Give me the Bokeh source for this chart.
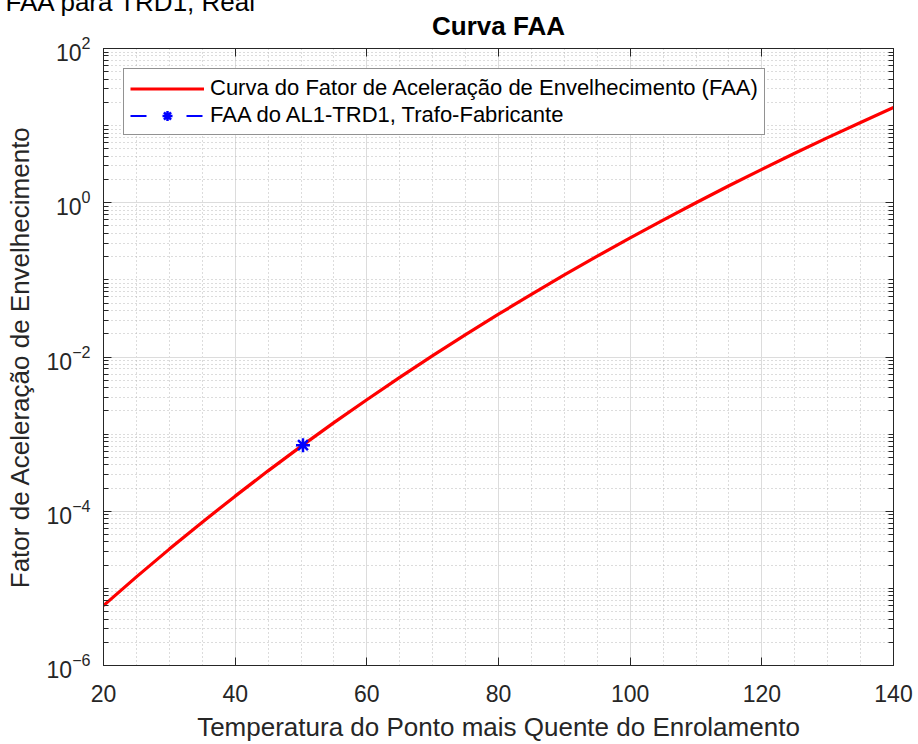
from bokeh.plotting import figure
from bokeh.models import (LinearAxis, LogAxis, FixedTicker, Legend, LegendItem,
                          Title, Range1d, ColumnDataSource)
from bokeh.embed import file_html
from bokeh.resources import INLINE

# ---- data ----
temperature = [20, 25, 30, 35, 40, 45, 50, 55, 60, 65, 70, 75, 80, 85, 90, 95,
               100, 105, 110, 115, 120, 125, 130, 135, 140]
faa = [5.97e-6, 1.41e-5, 3.23e-5, 7.22e-5, 1.57e-4, 3.34e-4, 6.93e-4, 1.41e-3,
       2.79e-3, 5.44e-3, 1.04e-2, 1.95e-2, 3.59e-2, 6.49e-2, 0.116, 0.203,
       0.350, 0.596, 1.0, 1.66, 2.71, 4.38, 6.98, 11.0, 17.2]
point_temperature = [50.3]
point_faa = [7.2e-4]

x_ticks = [20, 40, 60, 80, 100, 120, 140]
y_major_ticks = [1e-6, 1e-4, 1e-2, 1e0, 1e2]
y_minor_ticks = [m * 10.0 ** d for d in range(-6, 2) for m in range(1, 10)
                 if m * 10.0 ** d not in y_major_ticks]
x_minor_ticks = [t for t in range(20, 141, 5) if t not in x_ticks]

curve_label = "Curva do Fator de Aceleração de Envelhecimento (FAA)"
point_label = "FAA do AL1-TRD1, Trafo-Fabricante"
title_text = "Curva FAA"
fragment_text = "FAA para TRD1, Real"

FONT = "Liberation Sans"
DARK = "#262626"

p = figure(width=918, height=744,
           x_range=Range1d(20, 140), y_range=Range1d(1e-6, 1e2),
           y_axis_type="log", output_backend="svg", toolbar_location=None,
           min_border_left=103, min_border_right=25,
           min_border_top=43, min_border_bottom=79)
p.background_fill_color = "white"
p.border_fill_color = "white"
p.outline_line_color = DARK
p.outline_line_width = 1

# outermost heading: the cut-off fragment at the very top of the picture
p.title = Title(text=fragment_text, align="left", offset=-98, standoff=-31,
                vertical_align="bottom", text_font=FONT,
                text_font_size="26px", text_font_style="normal",
                text_color="black")

xt = FixedTicker(ticks=x_ticks, minor_ticks=x_minor_ticks)
yt = FixedTicker(ticks=y_major_ticks, minor_ticks=y_minor_ticks)

# bottom axis
xa = p.xaxis[0]
xa.ticker = xt
xa.axis_label = "Temperatura do Ponto mais Quente do Enrolamento"
# left axis
ya = p.yaxis[0]
ya.ticker = yt
ya.axis_label = "Fator de Aceleração de Envelhecimento"

for ax in (xa, ya):
    ax.axis_line_color = DARK
    ax.major_tick_line_color = DARK
    ax.minor_tick_line_color = DARK
    ax.major_tick_in = 8
    ax.major_tick_out = 0
    ax.major_label_text_font = FONT
    ax.major_label_text_font_size = "23px"
    ax.major_label_text_color = DARK
    ax.axis_label_text_font = FONT
    ax.axis_label_text_font_size = "26px"
    ax.axis_label_text_font_style = "normal"
    ax.axis_label_text_color = DARK

xa.minor_tick_in = 0
xa.minor_tick_out = 0
xa.major_label_standoff = 19
xa.axis_label_standoff = 7
ya.minor_tick_in = 5
ya.minor_tick_out = 0
ya.major_label_standoff = 13
ya.axis_label_standoff = 9

# top and right axes (ticks only, labels hidden)
top = LinearAxis(ticker=xt)
right = LogAxis(ticker=yt)
for ax in (top, right):
    ax.axis_line_color = DARK
    ax.major_tick_line_color = DARK
    ax.minor_tick_line_color = DARK
    ax.major_tick_in = 8
    ax.major_tick_out = 0
    ax.major_label_text_font_size = "1px"
    ax.major_label_text_alpha = 0
    ax.major_label_standoff = 0
top.minor_tick_in = 0
top.minor_tick_out = 0
right.minor_tick_in = 5
right.minor_tick_out = 0
p.add_layout(top, "above")
p.add_layout(right, "right")

# chart title, between the top axis and the fragment heading
main_title = Title(text=title_text, align="center", standoff=15,
                   text_font=FONT, text_font_size="26px",
                   text_font_style="bold", text_color="black")
p.add_layout(main_title, "above")

# grids
for g in (p.xgrid[0], p.ygrid[0]):
    g.grid_line_color = "#dcdcdc"
    g.grid_line_width = 1
    g.minor_grid_line_color = "#b8b8b8"
    g.minor_grid_line_dash = "1 3"
    g.minor_grid_line_width = 1
p.xgrid[0].ticker = xt
p.ygrid[0].ticker = yt

# data
src = ColumnDataSource(dict(t=temperature, f=faa))
psrc = ColumnDataSource(dict(t=point_temperature, f=point_faa))
r_curve = p.line("t", "f", source=src, line_color="#ff0000", line_width=3.2)
r_pline = p.line("t", "f", source=psrc, line_color="#0000ff", line_width=2,
                 line_dash="16 40")
r_point = p.scatter("t", "f", source=psrc, marker="asterisk", size=14,
                    line_color="#0000ff", line_width=2.5)

legend = Legend(items=[LegendItem(label=curve_label, renderers=[r_curve]),
                       LegendItem(label=point_label, renderers=[r_pline, r_point])],
                location="top_left", margin=20, padding=6, spacing=1,
                glyph_width=74, glyph_height=25, label_height=25,
                label_standoff=6, label_text_font=FONT,
                label_text_font_size="22px", label_text_color="black",
                border_line_color=DARK, border_line_width=1,
                background_fill_color="white", background_fill_alpha=1)
p.add_layout(legend, "center")

open("out.html", "w").write(file_html(p, INLINE))
